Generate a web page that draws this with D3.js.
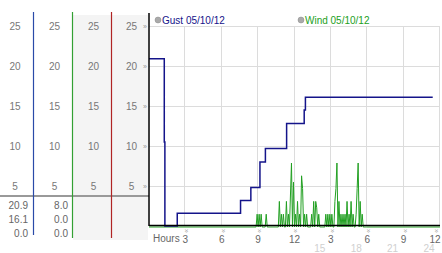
<!DOCTYPE html>
<html>
<head>
<meta charset="utf-8">
<script src="https://d3js.org/d3.v7.min.js"></script>
<style>
  body { margin: 0; background: #fff; }
  text { font-family: "Liberation Sans", Arial, sans-serif; }
</style>
</head>
<body>
<div id="chart"></div>
<script>
// series labels
var seriesNames = ["Gust 05/10/12", "Wind 05/10/12"];
var seriesColors = ["#14148a", "#22a022"];

// y ticks (same in all four left columns and in the plot)
var yTicks = [5, 10, 15, 20, 25];

// x ticks, hours from start of day
var xTickHours = [3, 6, 9, 12, 15, 18, 21, 24];
var xTickLabels = ["3", "6", "9", "12", "3", "6", "9", "12"];
var xTickLabels24 = ["", "", "", "", "15", "18", "21", "24"];

// gust readings (step line): hour, value
var gustHours  = [0, 1.26, 1.31, 2.33, 7.55, 8.4, 9.15, 9.6, 11.35, 12.8, 12.9, 23.4];
var gustValues = [20.9, 10.5, 0, 1.6, 3.2, 4.8, 8.0, 9.7, 12.8, 14.5, 16.1, 16.1];

// wind readings every 5 minutes, one row per hour (8h .. 17h)
var windRowHours = [8, 9, 10, 11, 12, 13, 14, 15, 16, 17];
var windRows = [
  [0, 0, 0, 0, 0, 0, 0, 0, 0, 0, 0, 1.6],
  [0, 1.6, 0, 1.6, 0, 0, 0, 0, 1.6, 0, 0, 0],
  [0, 0, 0, 0, 0, 0, 0, 0, 0, 3.2, 0, 1.6],
  [0, 1.6, 0, 0, 3.2, 0, 1.6, 0, 4.0, 8.0, 0, 5.6],
  [0, 1.6, 0, 3.2, 0, 1.6, 0, 6.4, 4.8, 0, 1.6, 0],
  [1.6, 0, 0, 0, 0, 1.6, 0, 3.2, 0, 3.2, 2.4, 0],
  [1.6, 0, 0, 0, 0, 0, 0, 1.6, 0, 1.6, 0, 1.6],
  [0, 1.6, 0, 0, 3.2, 4.8, 8.0, 0, 3.2, 0, 1.6, 0],
  [1.6, 0, 1.6, 0, 3.2, 0, 1.6, 0, 3.2, 0, 1.6, 0],
  [0, 1.6, 4.8, 8.0, 0, 3.2, 0, 1.6, 0, 0, 0, 0]
];
// calm before and after
var windCalmHours = [0, 24];

// summary table under the left axis
var gustStats = ["20.9", "16.1", "0.0"];
var windStats = ["8.0", "0.0", "0.0"];

var width = 442, height = 253;

var svg = d3.select("#chart")
  .append("svg")
  .attr("width", width)
  .attr("height", height);

var x = d3.scaleLinear().domain([0, 24]).range([149, 440]);
var y = d3.scaleLinear().domain([0, 25]).range([226, 26]);

// ---- left panel ----
svg.append("rect")
  .attr("x", 73).attr("y", 15)
  .attr("width", 75).attr("height", 225)
  .style("fill", "#f4f4f4");

var colCenters = [15, 54.5, 93.5, 131.5];
colCenters.forEach(function(cx) {
  svg.selectAll(null)
    .data(yTicks)
    .enter().append("text")
    .attr("x", cx)
    .attr("y", function(d) { return y(d) + 4; })
    .attr("text-anchor", "middle")
    .style("font-size", "10px")
    .style("fill", "#777")
    .text(function(d) { return d; });
});

// little tick marks left of the axis
svg.selectAll(".ytick")
  .data(yTicks)
  .enter().append("text")
  .attr("class", "ytick")
  .attr("x", 145)
  .attr("y", function(d) { return y(d) + 3; })
  .attr("text-anchor", "middle")
  .style("font-size", "7px")
  .style("fill", "#999")
  .text("»");

// separator
svg.append("line")
  .attr("x1", 0).attr("x2", 149)
  .attr("y1", 196).attr("y2", 196)
  .style("stroke", "#999")
  .style("stroke-width", 2);

var colLines = [
  {x: 33.5, y2: 235, c: "#2a4aa8"},
  {x: 72.5, y2: 238, c: "#33a033"},
  {x: 111.5, y2: 238, c: "#b02424"}
];
svg.selectAll(".colline")
  .data(colLines)
  .enter().append("line")
  .attr("class", "colline")
  .attr("x1", function(d) { return d.x; })
  .attr("x2", function(d) { return d.x; })
  .attr("y1", 12)
  .attr("y2", function(d) { return d.y2; })
  .style("stroke", function(d) { return d.c; })
  .style("stroke-width", 1.2);

[[gustStats, 28], [windStats, 68]].forEach(function(s) {
  svg.selectAll(null)
    .data(s[0])
    .enter().append("text")
    .attr("x", s[1])
    .attr("y", function(d, i) { return 209 + i * 14; })
    .attr("text-anchor", "end")
    .style("font-size", "10px")
    .style("fill", "#666")
    .text(function(d) { return d; });
});

// ---- plot grid ----
svg.selectAll(".hgrid")
  .data(yTicks)
  .enter().append("line")
  .attr("class", "hgrid")
  .attr("x1", x(0)).attr("x2", x(24))
  .attr("y1", function(d) { return Math.round(y(d)) + 0.5; })
  .attr("y2", function(d) { return Math.round(y(d)) + 0.5; })
  .style("stroke", "#dcdcdc");

svg.selectAll(".vgrid")
  .data(xTickHours)
  .enter().append("line")
  .attr("class", "vgrid")
  .attr("x1", function(d) { return Math.round(x(d)) - 0.5; })
  .attr("x2", function(d) { return Math.round(x(d)) - 0.5; })
  .attr("y1", y(25)).attr("y2", y(0))
  .style("stroke", "#dcdcdc");

// ---- series ----
var windData = [[windCalmHours[0], 0]];
windRows.forEach(function(row, r) {
  row.forEach(function(v, i) {
    windData.push([windRowHours[r] + i / 12, v]);
  });
});
windData.push([windCalmHours[1], 0]);

var line = d3.line()
  .x(function(d) { return x(d[0]); })
  .y(function(d) { return y(d[1]); });

svg.append("path")
  .datum(windData)
  .attr("d", line)
  .attr("transform", "translate(0,1)")
  .style("fill", "none")
  .style("stroke", seriesColors[1])
  .style("stroke-width", 1);

var gustData = gustHours.map(function(h, i) { return [h, gustValues[i]]; });
svg.append("path")
  .datum(gustData)
  .attr("d", line.curve(d3.curveStepAfter))
  .style("fill", "none")
  .style("stroke", seriesColors[0])
  .style("stroke-width", 1.5);

// ---- axes ----
svg.append("line")
  .attr("x1", 149).attr("x2", 149)
  .attr("y1", 13).attr("y2", 226)
  .style("stroke", "#000")
  .style("stroke-width", 1.5);
svg.append("line")
  .attr("x1", 149).attr("x2", 440)
  .attr("y1", 225.5).attr("y2", 225.5)
  .style("stroke", "#000")
  .style("stroke-width", 1.5);

svg.append("text")
  .attr("x", 153).attr("y", 242)
  .style("font-size", "10px")
  .style("fill", "#666")
  .text("Hours");

svg.selectAll(".xtick")
  .data(xTickHours)
  .enter().append("text")
  .attr("class", "xtick")
  .attr("transform", function(d) { return "translate(" + Math.min(x(d) + 1, 436) + ",231) rotate(90)"; })
  .attr("text-anchor", "middle")
  .attr("dy", "0.3em")
  .style("font-size", "7px")
  .style("fill", "#999")
  .text("»");

svg.selectAll(".xlab")
  .data(xTickHours)
  .enter().append("text")
  .attr("class", "xlab")
  .attr("x", function(d) { return Math.min(x(d), 435); })
  .attr("y", 243)
  .attr("text-anchor", "middle")
  .style("font-size", "10px")
  .style("fill", "#666")
  .text(function(d, i) { return xTickLabels[i]; });

svg.selectAll(".xlab24")
  .data(xTickHours)
  .enter().append("text")
  .attr("class", "xlab24")
  .attr("x", function(d) { return Math.min(x(d) - 11, 434); })
  .attr("y", 252)
  .attr("text-anchor", "middle")
  .style("font-size", "10px")
  .style("fill", "#d0d0d0")
  .text(function(d, i) { return xTickLabels24[i]; });

// ---- legend ----
var legX = [158, 301];
seriesNames.forEach(function(name, i) {
  svg.append("circle")
    .attr("cx", legX[i]).attr("cy", 20).attr("r", 3)
    .style("fill", "#aaa")
    .style("stroke", "#888")
    .style("stroke-width", 0.5);
  svg.append("text")
    .attr("x", legX[i] + 4).attr("y", 24)
    .style("font-size", "10px")
    .style("fill", seriesColors[i])
    .text(name);
});
</script>
</body>
</html>
